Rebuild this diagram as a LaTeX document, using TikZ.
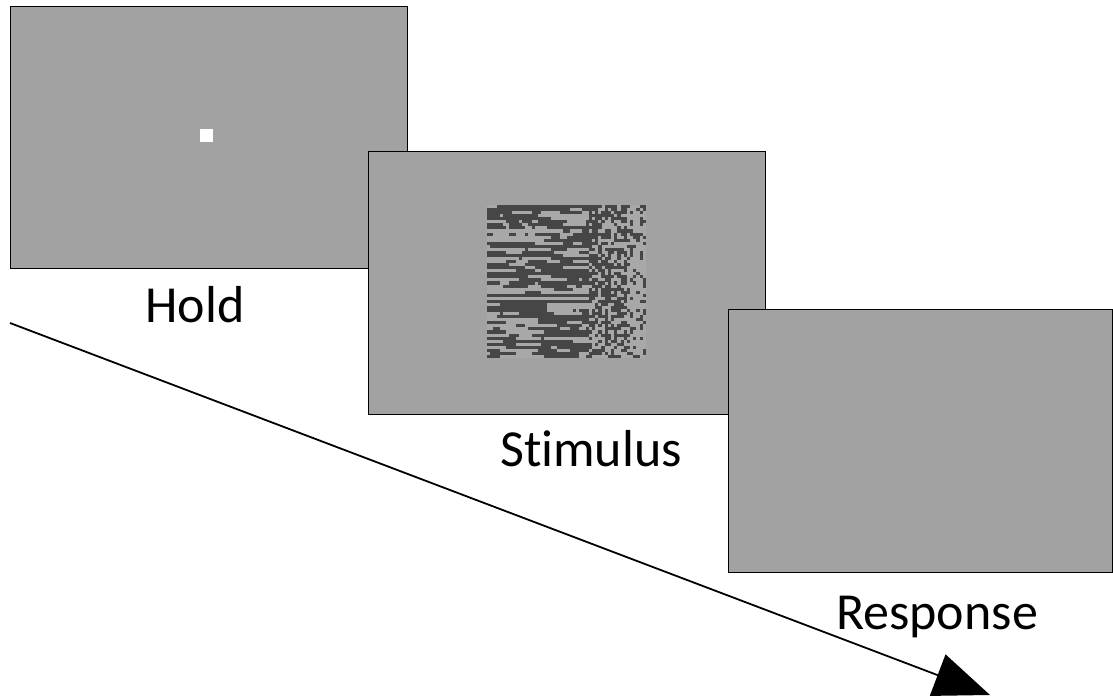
\documentclass[tikz,border=0pt]{standalone}
\usepackage{fontspec}
\setmainfont{Carlito}[Ligatures={NoCommon}]
\usetikzlibrary{arrows.meta}
\definecolor{panelgray}{HTML}{A2A2A2}
\definecolor{patlight}{HTML}{A8A8A8}
\definecolor{patdark}{HTML}{464646}
\tikzset{
  panel/.style={draw=black, line width=1pt, fill=panelgray, inner sep=0pt, anchor=north west},
  lbl/.style={font=\fontsize{52}{60}\selectfont, anchor=base, inner sep=0pt},
  timeline/.style={line width=1.8pt, -{Triangle[length=56pt,width=44pt]}},
}
\begin{document}
\begin{tikzpicture}[x=1pt,y=-1pt]
\useasboundingbox (0,0) rectangle (1113,700);
% panels
\node[panel, minimum width=397pt, minimum height=262pt] (hold) at (10,6) {};
\node[fill=white, minimum size=13pt, inner sep=0pt] (fix) at (206.5,135.5) {};
\node[panel, minimum width=397pt, minimum height=263pt] (stim) at (368,151) {};
\node[fill=patlight, minimum width=159pt, minimum height=153pt, inner sep=0pt, anchor=north west] (pattern) at (487,205) {};
% stimulus pattern
\pgfmathsetseed{11}
\foreach \r in {0,...,49}{
  \pgfmathtruncatemacro\tmp{rnd<0.6?1:0}\global\let\st\tmp
  \foreach \c in {0,...,49}{
    \ifnum\c<32
      \ifnum\st=1
        \pgfmathtruncatemacro\tmp{rnd<0.07?0:1}
      \else
        \pgfmathtruncatemacro\tmp{rnd<0.13?1:0}
      \fi
      \global\let\st\tmp
    \else
      \ifnum\c<44
        \pgfmathtruncatemacro\tmp{rnd<0.55?1:0}\global\let\st\tmp
      \else
        \pgfmathtruncatemacro\tmp{rnd<0.3?1:0}\global\let\st\tmp
      \fi
    \fi
    \ifnum\st=1
      \fill[patdark] (487+\c*3.18,205+\r*3.06) rectangle ++(3.2,3.08);
    \fi
  }
}
\node[panel, minimum width=384pt, minimum height=263pt] (resp) at (728,309) {};
% labels
\node[lbl] (holdlbl) at (195,323) {Hold};
\node[lbl] (stimlbl) at (591,466) {Stimulus};
\node[lbl] (resplbl) at (937,629) {Response};
% time arrow
\coordinate (tstart) at (10,323);
\coordinate (tend) at (990,695);
\draw[timeline] (tstart) -- (tend);
\end{tikzpicture}
\end{document}
